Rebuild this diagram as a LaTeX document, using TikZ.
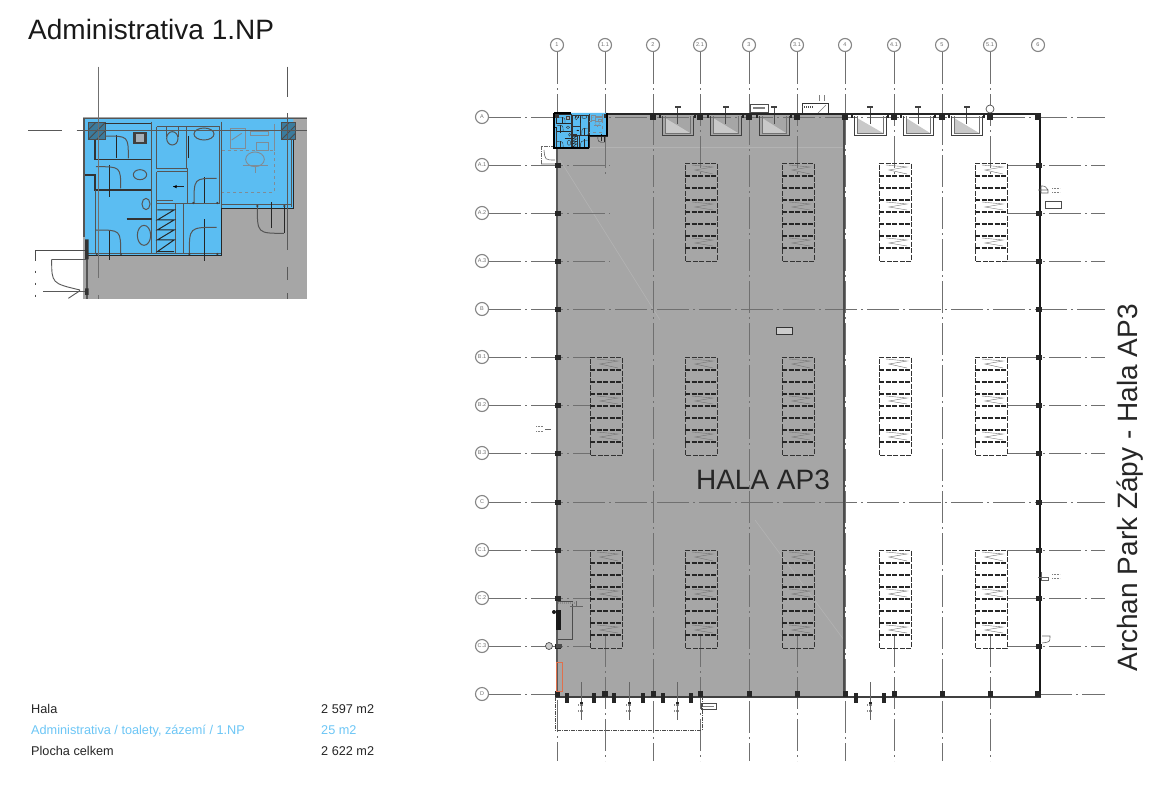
\documentclass[tikz,border=0pt]{standalone}
\usepackage{fontspec}
\setmainfont{Liberation Sans}
\definecolor{hallgrey}{HTML}{A6A6A6}
\definecolor{planblue}{HTML}{5BBDF2}
\definecolor{textblue}{HTML}{6CC6F6}
\definecolor{gridgrey}{HTML}{707070}
\definecolor{wallgrey}{HTML}{555555}
\definecolor{furn}{HTML}{7F8C96}
\definecolor{docklight}{HTML}{C9C9C9}
\definecolor{redbox}{HTML}{E0704C}
\tikzset{
 gridbub/.style={circle,draw=gridgrey!85,line width=1.1pt,minimum size=13pt,inner sep=0pt,font=\fontsize{5.5}{6}\selectfont,text=gridgrey},
 gridline/.style={draw=gridgrey,line width=1pt,dash pattern=on 32pt off 4pt on 2pt off 4pt},
 pillar/.style={fill=black!85,draw=none},
 rackside/.style={draw=black!80,line width=1pt,dash pattern=on 5pt off 1.5pt},
 rackrung/.style={draw=black!85,line width=1.5pt,dash pattern=on 5pt off 1.5pt},
 zigline/.style={draw=black!55,line width=.4pt},
 wallA/.style={draw=black!85,line width=1pt},
 wallB/.style={draw=wallgrey,line width=1pt},
 wallC/.style={draw=black!80,line width=1.4pt},
 furnline/.style={draw=furn,line width=.9pt},
 hatchbox/.style={fill=planblue!65!black,draw=black!70,line width=.5pt},
 hatchline/.style={draw=black!70,line width=.9pt},
}
\newcommand{\zigs}[2]{\draw[zigline] (-9,#1) -- (12,#1+2) -- (-6,#1+5) -- (12,#2);}
\newcommand{\rackblock}[2]{%
 \begin{scope}[shift={(#1+1,#2)}]
  \draw[rackside] (-16,0) -- (16,0) -- (16,98) -- (-16,98) -- cycle;
  \foreach \o in {13,25,37,49,61,73,85}{\draw[rackrung] (-16,\o) -- (16,\o);}
  \zigs{2}{11}\zigs{39}{47}\zigs{75}{83}
 \end{scope}}
\newcommand{\dock}[2]{%
 \fill[docklight] (#1+3,118) -- (#1+3,133) -- (#2-3,133) -- cycle;
 \draw[black!75,line width=1pt] (#1,116) -- (#1,135) -- (#2,135) -- (#2,116);
 \draw[black!55,line width=.6pt] (#1+3,116) -- (#1+3,133) -- (#2-3,133) -- (#2-3,116);
 \draw[black!70,line width=.7pt] ({(#1+#2)/2},108) -- ({(#1+#2)/2},124);
 \fill[black!75] ({(#1+#2)/2-3},106) rectangle ({(#1+#2)/2+3},108);
 \fill[pillar] (#1-3,115) rectangle (#1-1,118);
 \fill[pillar] (#2+1,115) rectangle (#2+3,118);}
\newcommand{\lamp}[1]{%
 \draw[black!60,line width=.7pt] (#1,682) -- (#1,720);
 \draw[black!45,line width=2.5pt,dash pattern=on 1pt off 1pt] (#1-3,705) -- (#1+3,705);
 \draw[black!45,line width=2.5pt,dash pattern=on 1pt off 1pt] (#1-3,711) -- (#1+3,711);
 \fill[pillar] (#1-1.5,702) rectangle (#1+1.5,704);}
\newcommand{\adminplan}{%
 \fill[planblue] (255,205) -- (880,205) -- (880,475) -- (665,475) -- (665,618) -- (255,618) -- cycle;
 \fill[hatchbox] (265,218) rectangle (315,268);
 \fill[hatchbox] (845,218) rectangle (885,268);
 \draw[hatchline] (265,240) -- (287,218) (265,268) -- (315,218) (290,268) -- (315,243);
 \draw[hatchline] (845,240) -- (867,218) (845,268) -- (885,228) (868,268) -- (885,251);
 \draw[wallC] (315,220) -- (455,220);
 \draw[wallC] (285,270) -- (285,328) -- (455,328);
 \draw[wallC] (255,375) -- (285,375) -- (285,420) -- (455,420);
 \draw[wallB] (285,420) -- (285,610);
 \draw[wallB] (455,215) -- (455,610);
 \draw[wallB] (470,230) -- (658,230) -- (658,462);
 \draw[wallB] (470,230) -- (470,355) -- (560,355) -- (560,230);
 \draw[wallB] (470,365) -- (560,365);
 \draw[wallB] (470,365) -- (470,610);
 \draw[wallB] (470,453) -- (520,453);
 \draw[wallB] (562,355) -- (562,460);
 \draw[wallB] (470,462) -- (658,462);
 \draw[wallB] (525,462) -- (525,610);
 \draw[wallB] (550,462) -- (550,610);
 \draw[wallB] (262,610) -- (665,610);
 \draw[wallB] (665,215) -- (665,618);
 \draw[wallB] (665,465) -- (875,465);
 \draw[wallB] (875,270) -- (875,470);
 \draw[wallA] (265,618) -- (665,618);
 \draw[wallA] (665,618) -- (665,475) -- (880,475) -- (880,270);
 \draw[wallA] (565,258) -- (565,325);
 \draw[wallC] (380,507) -- (455,507);
 \draw[wallA] (472,480) -- (522,480) -- (472,510) -- (522,510) -- (472,540) -- (522,540) -- (472,570) -- (522,570) -- (472,605) -- (522,605);
 \draw[wallA] (350,255) -- (350,325);
 \draw[wallB] (315,258) .. controls (385,258) .. (385,325);
 \draw[wallA] (328,345) -- (328,440);
 \draw[wallB] (288,350) .. controls (362,350) .. (362,415);
 \draw[wallA] (328,540) -- (328,630);
 \draw[wallB] (288,540) .. controls (362,540) .. (362,610);
 \draw[wallA] (613,382) -- (613,460);
 \draw[wallB] (650,385) .. controls (582,385) .. (582,460);
 \draw[wallA] (613,508) -- (613,632);
 \draw[wallB] (650,532) .. controls (568,532) .. (568,610);
 \draw[wallA] (813,457) -- (813,535);
 \draw[wallB] (772,470) .. controls (772,550) .. (852,550);
 \draw[wallA] (852,470) -- (852,550);
 \draw[wallB] (500,232) -- (500,262) (535,232) -- (535,262);
 \draw[wallB] (517,265) ellipse (17 and 20);
 \draw[wallB] (612,252) ellipse (30 and 18);
 \fill[black!75] (400,245) rectangle (440,282);
 \fill[furn!70] (408,252) rectangle (432,275);
 \draw[wallB] (420,374) ellipse (20 and 15);
 \draw[wallB] (438,462) ellipse (12 and 17);
 \draw[wallB] (432,556) ellipse (20 and 30);
 \draw[wallA] (520,410) -- (553,410);
 \fill[black] (520,410) -- (530,405) -- (530,415) -- cycle;
 \draw[furnline,dashed] (665,302) -- (822,302) -- (822,428) -- (665,428);
 \draw[furnline] (822,222) -- (822,302);
 \draw[furnline] (690,235) rectangle (735,295);
 \draw[furnline] (752,245) rectangle (805,257);
 \draw[furnline] (770,277) rectangle (805,300);
 \draw[furnline] (765,328) ellipse (28 and 22);
 \draw[furnline] (728,345) -- (805,345);
 \draw[furnline] (765,350) -- (765,368);
 \draw[furnline] (695,270) -- (725,250);
 \fill[black!75] (290,612) circle (3.5);
 \fill[black!75] (363,612) circle (3.5);
 \fill[black!75] (568,612) circle (3.5);
 \fill[black!75] (652,612) circle (3.5);
 \fill[black!75] (580,459) circle (3.5);
 \fill[black!75] (652,459) circle (3.5);
 \fill[black!75] (772,468) circle (3.5);
 \fill[black!75] (853,468) circle (3.5);
}
\begin{document}
\begin{tikzpicture}[x=1pt,y=-1pt]
\useasboundingbox (0,0) rectangle (1150,800);
\fill[white] (0,0) rectangle (1150,800);
\fill[hallgrey] (556,113) rectangle (844,697);
\draw[white,opacity=.15,line width=.6pt] (557,147) -- (844,147);
\draw[white,opacity=.15,line width=.6pt] (560,160) -- (660,320);
\draw[white,opacity=.15,line width=.6pt] (755,520) -- (844,640);
\foreach \n/\x/\t in {a/557/1,c/653/2,e/749/3,g/845/4,i/942/5}{
  \node[gridbub] (col\n) at (\x,45) {\t};
  \draw[gridline] (col\n.south) -- (\x,113);
  \coordinate (colend\n) at (\x,761);
}
\foreach \n/\x/\t in {b/605/1.1,d/700/2.1,f/797/3.1,h/894/4.1,j/990/5.1}{
  \node[gridbub] (col\n) at (\x,45) {\t};
  \coordinate (colmid\n) at (\x,177);
  \coordinate (colend\n) at (\x,761);
  \draw[gridline] (col\n.south) -- (colmid\n);
}
\node[gridbub] (colk) at (1038,45) {6};
\foreach \n/\x in {c/653,e/749,g/845,i/942}{\draw[gridline] (\x,113) -- (colend\n);}
\foreach \n/\x in {b/605,d/700,f/797,h/894,j/990}{\draw[gridline] (\x,635) -- (colend\n);}
\draw[gridline] (557,700) -- (colenda);
\foreach \n/\y/\t in {ra/117/A,rb/309/B,rc/502/C}{
  \node[gridbub] (\n) at (482,\y) {\t};
  \coordinate (\n e) at (1105,\y);
  \draw[gridline] (\n.east) -- (\n e);
}
\foreach \n/\y/\t/\r in {r1/165/A.1/610,r2/213/A.2/610,r3/261/A.3/610,r4/357/B.1/590,r5/405/B.2/590,r6/453/B.3/590,r7/550/C.1/590,r8/598/C.2/590,r9/646/C.3/590}{
  \node[gridbub] (\n) at (482,\y) {\t};
  \coordinate (\n e) at (\r,\y);
  \draw[gridline] (\n.east) -- (\n e);
  \draw[gridline] (1007,\y) -- (1105,\y);
}
\node[gridbub] (rd) at (482,694) {D};
\coordinate (rde) at (556,694);
\draw[gridline] (rd.east) -- (rde);
\draw[gridline] (1040,694) -- (1105,694);
\foreach \x in {700,797,894,990}{\rackblock{\x}{163}}
\foreach \x in {605,700,797,894,990}{\rackblock{\x}{357}\rackblock{\x}{550}}
\dock{662}{693}\dock{710}{741}\dock{759}{789}\dock{854}{886}\dock{903}{933}\dock{951}{982}
\draw[black!65,line width=2.2pt] (557,113) -- (557,697);
\draw[black!70,line width=1.2pt] (844,113) -- (844,697);
\draw[black!85,line width=1.6pt] (556,114) -- (1041,114);
\draw[black!90,line width=2pt] (1040,113) -- (1040,697);
\draw[black!75,line width=2pt] (556,697) -- (1041,697);
\draw[white,line width=.6pt,dash pattern=on 8pt off 3pt on 1.5pt off 12pt] (850,698) -- (1036,698);
\foreach \x in {557,653,700,749,797,845,894,942,990,1038}{
  \fill[pillar] (\x-3,113) rectangle (\x+3,120);
  \fill[pillar] (\x-2.5,691) rectangle (\x+2.5,697);
}
\fill[pillar] (602,691) rectangle (608,697);
\foreach \y in {165,213,261,309,357,405,453,502,550,598,646}{
  \fill[pillar] (555,\y-2.5) rectangle (561,\y+2.5);
  \fill[pillar] (1036,\y-2.5) rectangle (1042,\y+2.5);
}
\fill[pillar] (1035,113) rectangle (1041,120);
\fill[pillar] (1035,691) rectangle (1041,697);
\foreach \x in {567,594,614,643,663,691,856,884}{
  \fill[pillar] (\x-2,693) rectangle (\x+2,703);
}
\lamp{581}\lamp{629}\lamp{677}\lamp{870}
\draw[black!70,line width=.5pt,fill=white] (750,104) rectangle (768,112);
\draw[black!50,line width=1.5pt] (753,108) -- (765,108);
\draw[black!80,line width=.9pt] (802,113) -- (802,103) -- (828,103) -- (828,113);
\draw[black!70,line width=1.6pt,dash pattern=on 1pt off 1pt] (802,107) -- (814,107);
\draw[black!50,line width=.6pt] (818,113) -- (826,105);
\draw[black!50,line width=.6pt] (819,101) -- (819,95) (824,101) -- (824,95);
\draw[black!80,line width=.6pt,fill=black!20] (776,327) rectangle (792,334);
\draw[black!70,line width=.5pt,fill=white] (1045,201) rectangle (1061,208);
\draw[black!60,line width=.6pt] (1038,190) -- (1048,190) -- (1048,193) -- (1041,193) -- (1041,186) .. controls (1045,186) .. (1048,190);
\draw[black!50,line width=1pt,dash pattern=on 1pt off .6pt] (1052,188) -- (1060,188) (1052,192) -- (1060,192);
\draw[black!60,line width=.6pt] (1038,577) -- (1048,577) (1041,572) -- (1041,580) -- (1048,580) -- (1048,577);
\draw[black!50,line width=1pt,dash pattern=on 1pt off .6pt] (1052,574) -- (1060,574) (1052,578) -- (1060,578);
\draw[black!60,line width=.6pt] (1042,636) -- (1050,636) .. controls (1050,642) .. (1042,643);
\draw[black!70,line width=.5pt,fill=white] (701,703) rectangle (716,709);
\draw[black!50,line width=1pt] (703,706) -- (714,706);
\draw[black!60,line width=.5pt] (545,429) -- (551,429);
\draw[black!50,line width=1pt,dash pattern=on 1pt off .6pt] (536,426) -- (543,426) (536,431) -- (543,431);
\draw[black!60,line width=.7pt,dash pattern=on 4pt off 1pt on 1pt off 1pt] (541,164) -- (541,146) -- (553,146);
\draw[black!60,line width=.6pt] (541,164) -- (555,164) (544,150) .. controls (545,160) .. (555,160);
\draw[black!70,line width=.8pt,dash pattern=on 4pt off 1pt on 1pt off 1pt] (555,697) -- (555,730) -- (702,730) -- (702,697);
\draw[redbox,line width=1pt] (556,662) rectangle (562,691);
\draw[black!70,line width=.8pt] (558,601) -- (572,601) (572,601) -- (572,639) -- (558,639);
\draw[black!45,line width=1.8pt,dash pattern=on 1pt off 1pt] (558,603) -- (578,603);
\draw[black!60,line width=.5pt] (570,606) -- (583,606) (576,601) -- (576,607);
\fill[black!90] (556,610) rectangle (561,630);
\fill[black!90] (554,612) circle (2);
\fill[black!70] (556,644) rectangle (562,648);
\draw[black!70,line width=.7pt,fill=white!80!black] (549,646) circle (3.5);
\draw[black!70,line width=.7pt,fill=white] (990,109) circle (4);
\begin{scope}[shift={(532.4,95.6)},x=.0848pt,y=-.0848pt,
  wallA/.style={draw=black!85,line width=.45pt},wallB/.style={draw=black!80,line width=.4pt},
  wallC/.style={draw=black!85,line width=.55pt},furnline/.style={draw=furn,line width=.3pt},
  hatchbox/.style={fill=black!80},hatchline/.style={draw=none}]
 \adminplan
 \draw[black,line width=1.1pt] (255,205) -- (455,205) (880,205) -- (880,475) -- (665,475) -- (665,618) -- (255,618) -- (255,205);
\end{scope}
\begin{scope}[shift={(0,50)},x=.33333pt,y=-.33333pt]
 \fill[hallgrey] (250,200) rectangle (920,748);
 \adminplan
 \draw[wallgrey,line width=1.4pt] (920,205) -- (252,205) -- (252,560);
 \draw[wallgrey,line width=2pt] (260,570) -- (260,748);
 \draw[gridgrey,line width=.9pt] (294,50) -- (294,205);
 \draw[gridgrey,line width=.9pt] (294,205) -- (294,685) (294,735) -- (294,748);
 \draw[black!65,line width=1pt] (863,50) -- (863,140) (863,190) -- (863,205) (863,205) -- (863,600) (863,650) -- (863,690) (863,730) -- (863,748);
 \draw[black!65,line width=1pt] (85,242) -- (185,242) (230,242) -- (920,242);
 \draw[black!70,line width=.9pt,dash pattern=on 60pt off 10pt on 2pt off 10pt on 2pt off 10pt] (255,602) -- (105,602) -- (105,740);
 \draw[black!65,line width=.9pt] (155,628) -- (262,628) (130,725) -- (262,725);
 \draw[black!65,line width=.9pt] (155,628) .. controls (155,700) .. (240,720) (205,745) -- (240,722);
 \fill[black!80] (255,568) rectangle (266,628) (255,715) rectangle (266,735);
\end{scope}
\node[anchor=base west,inner sep=0pt,font=\fontsize{28}{28}\selectfont,text=black!90] (title) at (28,40) {Administrativa 1.NP};
\node[font=\fontsize{28}{28}\selectfont,text=black!85] (hall) at (763,480) {HALA AP3};
\node[rotate=90,anchor=base,inner sep=0pt,font=\fontsize{28}{28}\selectfont,text=black!85] (proj) at (1137,488) {Archan Park Zápy - Hala AP3};
\tikzset{tbl/.style={anchor=base west,inner sep=0pt,font=\fontsize{12.7}{13}\selectfont}}
\node[tbl,text=black!85] (t1) at (31,713) {Hala};
\node[tbl,text=textblue] (t2) at (31,734) {Administrativa / toalety, zázemí / 1.NP};
\node[tbl,text=black!85] (t3) at (31,755) {Plocha celkem};
\node[tbl,text=black!85] (v1) at (321,713) {2 597 m2};
\node[tbl,text=textblue] (v2) at (321,734) {25 m2};
\node[tbl,text=black!85] (v3) at (321,755) {2 622 m2};
\end{tikzpicture}
\end{document}
